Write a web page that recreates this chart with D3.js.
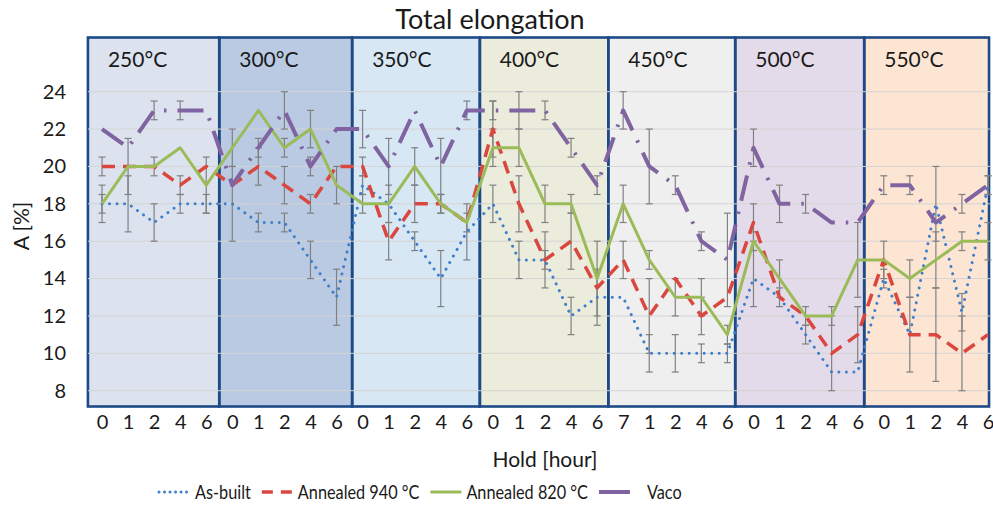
<!DOCTYPE html>
<html>
<head>
<meta charset="utf-8">
<script src="https://cdn.jsdelivr.net/npm/d3@7/dist/d3.min.js"></script>
<style>
  html, body { margin: 0; padding: 0; background: #fff; }
  svg { display: block; }
  text { font-family: Lato, "Open Sans", sans-serif; fill: #1a1a1a; }
</style>
</head>
<body>
<svg id="chart" width="993" height="508"></svg>
<script>
// Annealing temperatures (one panel each) and hold times inside each panel
const temperatures = ["250°C", "300°C", "350°C", "400°C", "450°C", "500°C", "550°C"];
const holdLabels = [
  "0","1","2","4","6",
  "0","1","2","4","6",
  "0","1","2","4","6",
  "0","1","2","4","6",
  "7","1","2","4","6",
  "0","1","2","4","6",
  "0","1","2","4","6"
];
// Panel edges, in category-index units
const panelEdges = [-0.54, 4.5, 9.6, 14.5, 19.43, 24.3, 29.25, 34.04];
const panelFills = ["#dce3ef", "#b9cae2", "#d7e7f3", "#ebecdb", "#efefef", "#e4dbea", "#fde5d4"];

// Total elongation A [%]
const asBuilt = [18,18,17,18,18, 18,17,17,15,13, 19,18,16,14,16.5, 18,15,15,12,13,
                 13,10,10,10,10, 14,13,11,9,9, 14,11,18,12.2,19];
const annealed940 = [20,20,20,19,20, 19,20,19,18,20, 20,16,18,18,17, 22,18,15,16,13.5,
                     15,12,14,12,13, 17,13,12,10,11, 15,11,11,10,11];
const annealed820 = [18,20,20,21,19, 21,23,21,22,19, 18,18,20,18,17, 21,21,18,18,14,
                     18,15,13,13,11, 16,14,12,12,15, 15,14,15,16,16];
const vaco = [22,21,23,23,23, 19,21,23,20,22, 22,20,23,20,23, 23,23,23,21,19,
              23,20,19,16,15, 21,18,18,17,17, 19,19,17,18,19];

// Standard deviations (error bar half-lengths)
const errAsBuilt = [1,1.5,1,0.5,0.5, 2,0.5,0.5,1,1.5, 0.5,0,0.5,1.5,1.5, 1,1,0.5,1,1.5,
                    0,1,1,0.5,0.5, 1.5,0.5,0.5,0,0, 0.5,2,2,1,0.5];
const err940 = [0.5,0,0,0.5,0, 0,1,1,0.5,0, 0.5,1,1,0.5,0, 1.5,1.5,1.5,1.5,0,
                1,2,0,1,0, 1,0,0,2,1.5, 0,0,2.5,2,0];
const err820 = [0.5,1.5,0.5,0,1.5, 1,0,0.5,1,1, 0.5,1,1,0.5,0.5, 1,1,1,0.5,2,
                1,0.5,1,1,0.5, 0.5,1,0.5,0.5,2, 1,1,1.5,0.5,1];
const errVaco = [0,0,0.5,0.5,0, 0,0.5,1,0.5,0, 1,1.5,0,1.5,0.5, 0.5,1,0.5,0.5,0.5,
                 1,2,0.5,0.5,2.5, 1,1,0.5,0,0, 0.5,0.5,0,0.5,0.5];

const yTicks = [8, 10, 12, 14, 16, 18, 20, 22, 24];

const series = [
  { name: "As-built",        values: asBuilt,     err: errAsBuilt, color: "#3f7fca", width: 3,   dash: "0.01 7.5", legendDash: "0.01 5.5", cap: "round" },
  { name: "Annealed 940 °C", values: annealed940, err: err940,     color: "#d9473f", width: 3.5, dash: "13 8",     legendDash: "11 8",     cap: "butt" },
  { name: "Annealed 820 °C", values: annealed820, err: err820,     color: "#9bbb59", width: 3,   dash: null,       legendDash: null,       cap: "butt" },
  { name: "Vaco",            values: vaco,        err: errVaco,    color: "#8064a2", width: 4,   dash: "26 11 2.5 11", legendDash: null,   cap: "butt" }
];

const svg = d3.select("#chart");
const plot = { left: 88, right: 990, top: 37.5, bottom: 406.5 };

const idx = d3.range(holdLabels.length);
const x = d3.scalePoint().domain(idx).range([102, 988]);
const step = x.step();
const xc = v => x(0) + v * step;              // continuous position in category units
const y = d3.scaleLinear().domain([7.155, 26.9]).range([plot.bottom, plot.top]);

// Title
svg.append("text")
  .attr("x", 490).attr("y", 29)
  .attr("text-anchor", "middle")
  .style("font-size", "27px")
  .text("Total elongation");

// Temperature panels
const panels = svg.append("g");
temperatures.forEach((t, i) => {
  const x0 = xc(panelEdges[i]), x1 = xc(panelEdges[i + 1]);
  panels.append("rect")
    .attr("x", x0).attr("y", plot.top)
    .attr("width", x1 - x0).attr("height", plot.bottom - plot.top)
    .attr("fill", panelFills[i]);
});

// Horizontal gridlines
svg.append("g").selectAll("line").data(yTicks).join("line")
  .attr("x1", plot.left).attr("x2", plot.right)
  .attr("y1", d => y(d)).attr("y2", d => y(d))
  .attr("stroke", "#d4d4d4").attr("stroke-width", 1);

// Panel borders and temperature labels
temperatures.forEach((t, i) => {
  const x0 = xc(panelEdges[i]), x1 = xc(panelEdges[i + 1]);
  panels.append("rect")
    .attr("x", x0).attr("y", plot.top)
    .attr("width", x1 - x0).attr("height", plot.bottom - plot.top)
    .attr("fill", "none").attr("stroke", "#1c4a87").attr("stroke-width", 2.6);
  svg.append("text")
    .attr("x", x0 + 20).attr("y", 67)
    .style("font-size", "21px")
    .text(t);
});

// Y axis labels
const yAxis = d3.axisLeft(y).tickValues(yTicks).tickSize(0).tickPadding(0);
const gy = svg.append("g").attr("transform", `translate(66,0)`).call(yAxis);
gy.select(".domain").remove();
gy.selectAll("text").style("font-size", "20px").style("font-family", "Lato, 'Open Sans', sans-serif").attr("fill", "#1a1a1a");

svg.append("text")
  .attr("transform", `translate(29,226) rotate(-90)`)
  .attr("text-anchor", "middle")
  .style("font-size", "21px")
  .text("A [%]");

// X axis labels
const xAxis = d3.axisBottom(x).tickFormat(i => holdLabels[i]).tickSize(0).tickPadding(0);
const gx = svg.append("g").attr("transform", `translate(0,${plot.bottom + 8})`).call(xAxis);
gx.select(".domain").remove();
gx.selectAll("text").style("font-size", "20px").style("font-family", "Lato, 'Open Sans', sans-serif").attr("fill", "#1a1a1a");

svg.append("text")
  .attr("x", 545).attr("y", 467)
  .attr("text-anchor", "middle")
  .style("font-size", "21px")
  .text("Hold [hour]");

// Error bars, then the series lines on top
const line = d3.line().x((d, i) => x(i)).y(d => y(d));
series.forEach(s => {
  const eb = svg.append("g").attr("stroke", "#808080").attr("stroke-width", 1.2);
  s.values.forEach((v, i) => {
    const e = s.err[i];
    if (!e) return;
    const xi = x(i);
    eb.append("line").attr("x1", xi).attr("x2", xi).attr("y1", y(v - e)).attr("y2", y(v + e));
    eb.append("line").attr("x1", xi - 3.5).attr("x2", xi + 3.5).attr("y1", y(v - e)).attr("y2", y(v - e));
    eb.append("line").attr("x1", xi - 3.5).attr("x2", xi + 3.5).attr("y1", y(v + e)).attr("y2", y(v + e));
  });
});
series.forEach(s => {
  svg.append("path")
    .datum(s.values)
    .attr("d", line)
    .attr("fill", "none")
    .attr("stroke", s.color)
    .attr("stroke-width", s.width)
    .attr("stroke-linecap", s.cap)
    .attr("stroke-linejoin", "round")
    .attr("stroke-dasharray", s.dash);
});

// Legend (text slightly condensed horizontally)
const legend = svg.append("g").attr("transform", "translate(0,492)");
const squeeze = 0.88;
let lx = 157;
series.forEach((s, i) => {
  legend.append("line")
    .attr("x1", lx + 2).attr("x2", lx + 33).attr("y1", 0).attr("y2", 0)
    .attr("stroke", s.color).attr("stroke-width", s.width)
    .attr("stroke-linecap", s.cap)
    .attr("stroke-dasharray", s.legendDash);
  const tx = lx + (i === series.length - 1 ? 50 : 38);
  const t = legend.append("text")
    .attr("transform", `translate(${tx},6.5) scale(${squeeze},1)`)
    .style("font-size", "18.5px")
    .text(s.name);
  lx = tx + t.node().getComputedTextLength() * squeeze + 9;
});
</script>
</body>
</html>
